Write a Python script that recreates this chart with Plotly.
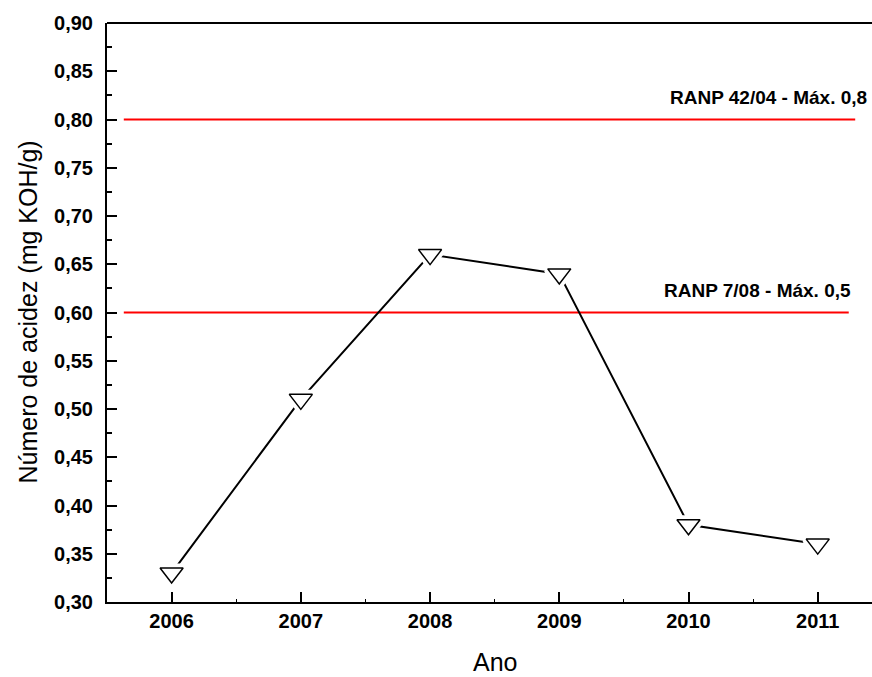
import plotly.graph_objects as go

years = [2006, 2007, 2008, 2009, 2010, 2011]
acid = [0.33, 0.51, 0.66, 0.64, 0.38, 0.36]

limit_values = [0.80, 0.60]
limit_labels = ["RANP 42/04 - Máx. 0,8", "RANP 7/08 - Máx. 0,5"]
limit_x_start = [2005.63, 2005.63]
limit_x_end = [2011.29, 2011.24]
limit_label_x = [2011.40, 2011.27]

y_ticks = [0.30, 0.35, 0.40, 0.45, 0.50, 0.55, 0.60, 0.65, 0.70, 0.75, 0.80, 0.85, 0.90]
y_ticktext = [f"{v:.2f}".replace(".", ",") for v in y_ticks]

FONT = "Liberation Sans, Arial, sans-serif"

fig = go.Figure()

for v, x0, x1 in zip(limit_values, limit_x_start, limit_x_end):
    fig.add_trace(go.Scatter(x=[x0, x1], y=[v, v], mode="lines",
                             line=dict(color="#ff0000", width=2), showlegend=False, hoverinfo="skip"))

fig.add_trace(go.Scatter(x=years, y=acid, mode="lines",
                         line=dict(color="black", width=2), showlegend=False))
# white halo to create gaps around markers
fig.add_trace(go.Scatter(x=years, y=acid, mode="markers",
                         marker=dict(symbol="triangle-down", size=20, color="white",
                                     line=dict(color="white", width=9)),
                         showlegend=False, hoverinfo="skip"))
fig.add_trace(go.Scatter(x=years, y=acid, mode="markers",
                         marker=dict(symbol="triangle-down", size=20, color="white",
                                     line=dict(color="black", width=1.5)),
                         showlegend=False))

for v, lab, lx in zip(limit_values, limit_labels, limit_label_x):
    fig.add_annotation(x=lx, y=v, xref="x", yref="y", text=lab, showarrow=False,
                       xanchor="right", yanchor="bottom", yshift=10,
                       font=dict(family=FONT, size=19, color="black", weight="bold"))

# axis titles
fig.add_annotation(x=0.507, y=0, xref="paper", yref="paper", text="Ano", showarrow=False,
                   xanchor="center", yanchor="middle", yshift=-60,
                   font=dict(family=FONT, size=25, color="black"))
fig.add_annotation(x=0, y=0.5, xref="paper", yref="paper", text="Número de acidez (mg KOH/g)",
                   showarrow=False, textangle=-90, xanchor="center", yanchor="middle",
                   xshift=-80, font=dict(family=FONT, size=25, color="black"))

# top frame line (right frame lies outside the visible area)
fig.add_shape(type="line", xref="paper", yref="paper", x0=0, x1=1, y0=1, y1=1,
              line=dict(color="black", width=2))

fig.update_layout(
    width=872, height=677,
    margin=dict(l=107, r=0, t=23, b=75),
    plot_bgcolor="white", paper_bgcolor="white",
    font=dict(family=FONT, color="black"),
)

fig.update_xaxes(
    range=[2005.5, 2011.42], tickvals=years, ticktext=[str(y) for y in years],
    ticks="inside", ticklen=10, tickwidth=2, tickcolor="black",
    minor=dict(dtick=0.5, tick0=2005.5, ticks="inside", ticklen=3, tickwidth=1, tickcolor="black"),
    showline=True, linecolor="black", linewidth=2, mirror=False,
    showgrid=False, zeroline=False, automargin=False,
    tickfont=dict(family=FONT, size=20, color="black", weight="bold"),
    ticklabelstandoff=0,
)
fig.update_yaxes(
    range=[0.30, 0.90], tickvals=y_ticks, ticktext=y_ticktext,
    ticks="inside", ticklen=10, tickwidth=2, tickcolor="black",
    minor=dict(dtick=0.025, tick0=0.3, ticks="inside", ticklen=5, tickwidth=2, tickcolor="black"),
    showline=True, linecolor="black", linewidth=2, mirror=False,
    showgrid=False, zeroline=False, automargin=False,
    tickfont=dict(family=FONT, size=20, color="black", weight="bold"),
    ticklabelstandoff=8,
)

fig.write_html(
    "out.html",
    config={"displayModeBar": False},
    post_script="document.body.style.margin='0';document.body.style.overflow='hidden';"
                "document.documentElement.style.overflow='hidden';",
)
